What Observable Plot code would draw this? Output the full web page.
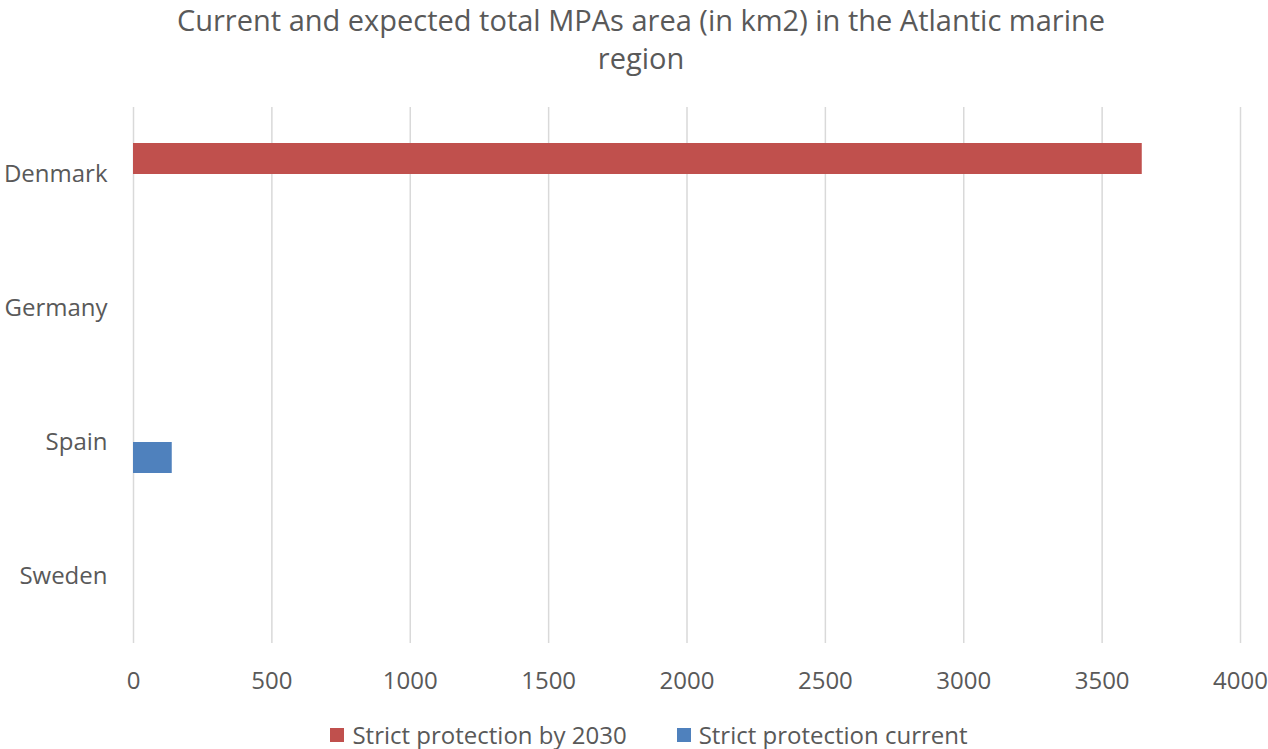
<!DOCTYPE html>
<html>
<head>
<meta charset="utf-8">
<script src="https://cdn.jsdelivr.net/npm/d3@7"></script>
<script src="https://cdn.jsdelivr.net/npm/@observablehq/plot@0.6"></script>
<style>
  html, body { margin: 0; padding: 0; background: #fff; }
  body { width: 1268px; height: 749px; overflow: hidden; font-family: "Open Sans", sans-serif; color: #595959; }
  #title { box-sizing: border-box; width: 1268px; padding-left: 14px; padding-top: 1px; text-align: center; font-size: 29px; line-height: 38px; height: 76px; }
  #chart svg { display: block; }
  #legend { box-sizing: border-box; width: 1268px; height: 49px; padding-left: 30px; display: flex; justify-content: center; align-items: center; font-size: 24px; padding-top: 20px; }
  .item { display: flex; align-items: center; }
  .item + .item { margin-left: 50px; }
  .sw { width: 14px; height: 14px; margin-right: 8px; }
</style>
</head>
<body>
<div id="title">Current and expected total MPAs area (in km2) in the Atlantic marine<br>region</div>
<div id="chart"></div>
<div id="legend"></div>
<script>
const countries = ["Denmark", "Germany", "Spain", "Sweden"];
const seriesNames = ["Strict protection by 2030", "Strict protection current"];
const by2030 = [3645, 0, 0, 0];
const current = [0, 0, 140, 0];
const xTicks = [0, 500, 1000, 1500, 2000, 2500, 3000, 3500, 4000];
const colors = ["#C0504D", "#4F81BD"];

const table = [];
countries.forEach((c, i) => {
  table.push({country: c, series: seriesNames[0], value: by2030[i]});
  table.push({country: c, series: seriesNames[1], value: current[i]});
});

const chart = Plot.plot({
  width: 1268,
  height: 624,
  marginTop: 31,
  marginBottom: 57,
  marginLeft: 133,
  marginRight: 28,
  style: {fontFamily: "Open Sans, sans-serif", fontSize: "24px", color: "#595959", background: "#fff"},
  facet: {data: table, y: "country"},
  fy: {domain: countries, padding: 0, axis: "left", tickSize: 0, tickPadding: 26, label: null},
  x: {domain: [0, 4000], ticks: xTicks, tickSize: 0, tickPadding: 28, tickFormat: d => String(d), label: null},
  y: {domain: seriesNames, axis: null, paddingInner: 0, paddingOuter: 1.094},
  color: {domain: seriesNames, range: colors},
  marks: [
    Plot.ruleX(xTicks, {stroke: "#d9d9d9", strokeWidth: 1.5}),
    Plot.barX(table, {y: "series", x: "value", fill: "series"})
  ]
});
document.getElementById("chart").appendChild(chart);

const legend = document.getElementById("legend");
seriesNames.forEach((s, i) => {
  const item = document.createElement("div");
  item.className = "item";
  const sw = document.createElement("div");
  sw.className = "sw";
  sw.style.background = colors[i];
  const t = document.createElement("span");
  t.textContent = s;
  item.appendChild(sw);
  item.appendChild(t);
  legend.appendChild(item);
});
</script>
</body>
</html>
